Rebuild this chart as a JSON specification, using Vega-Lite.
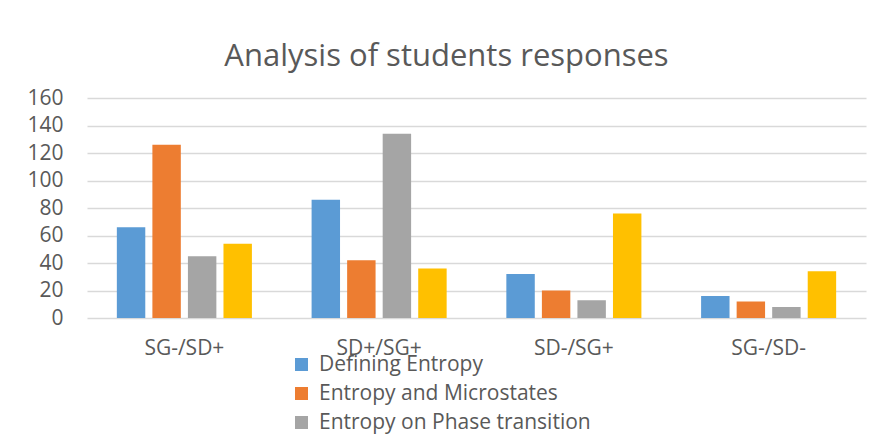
{
  "$schema": "https://vega.github.io/schema/vega-lite/v6.json",
  "width": 779,
  "height": 220,
  "autosize": {"type": "none"},
  "padding": {"left": 87, "top": 98, "right": 11, "bottom": 128},
  "background": "white",
  "title": {
    "text": "Analysis of students responses",
    "font": "Open Sans",
    "fontSize": 31,
    "fontWeight": "normal",
    "color": "#595959",
    "anchor": "middle",
    "dx": -30,
    "offset": 14
  },
  "data": {
    "values": [
      {"category": "SG-/SD+", "series": "Defining Entropy", "value": 66},
      {"category": "SG-/SD+", "series": "Entropy and Microstates", "value": 126},
      {"category": "SG-/SD+", "series": "Entropy on Phase transition", "value": 45},
      {"category": "SG-/SD+", "series": "Series 4", "value": 54},
      {"category": "SD+/SG+", "series": "Defining Entropy", "value": 86},
      {"category": "SD+/SG+", "series": "Entropy and Microstates", "value": 42},
      {"category": "SD+/SG+", "series": "Entropy on Phase transition", "value": 134},
      {"category": "SD+/SG+", "series": "Series 4", "value": 36},
      {"category": "SD-/SG+", "series": "Defining Entropy", "value": 32},
      {"category": "SD-/SG+", "series": "Entropy and Microstates", "value": 20},
      {"category": "SD-/SG+", "series": "Entropy on Phase transition", "value": 13},
      {"category": "SD-/SG+", "series": "Series 4", "value": 76},
      {"category": "SG-/SD-", "series": "Defining Entropy", "value": 16},
      {"category": "SG-/SD-", "series": "Entropy and Microstates", "value": 12},
      {"category": "SG-/SD-", "series": "Entropy on Phase transition", "value": 8},
      {"category": "SG-/SD-", "series": "Series 4", "value": 34}
    ]
  },
  "mark": {"type": "bar"},
  "encoding": {
    "x": {
      "field": "category",
      "type": "nominal",
      "sort": ["SG-/SD+", "SD+/SG+", "SD-/SG+", "SG-/SD-"],
      "scale": {"paddingInner": 0.27, "paddingOuter": 0.135},
      "axis": {
        "title": null,
        "labelAngle": 0,
        "labelFont": "Open Sans",
        "labelFontSize": 21,
        "labelColor": "#595959",
        "labelPadding": 19,
        "ticks": false,
        "domain": false,
        "grid": false
      }
    },
    "xOffset": {
      "field": "series",
      "type": "nominal",
      "sort": ["Defining Entropy", "Entropy and Microstates", "Entropy on Phase transition", "Series 4"],
      "scale": {"paddingInner": 0.2, "paddingOuter": 0.1}
    },
    "y": {
      "field": "value",
      "type": "quantitative",
      "scale": {"domain": [0, 160], "nice": false},
      "axis": {
        "title": null,
        "values": [0, 20, 40, 60, 80, 100, 120, 140, 160],
        "labelFont": "Open Sans",
        "labelFontSize": 21,
        "labelColor": "#595959",
        "labelPadding": 24,
        "ticks": false,
        "domain": false,
        "grid": true,
        "gridColor": "#D9D9D9",
        "gridWidth": 1.5
      }
    },
    "color": {
      "field": "series",
      "type": "nominal",
      "scale": {
        "domain": ["Defining Entropy", "Entropy and Microstates", "Entropy on Phase transition", "Series 4"],
        "range": ["#5B9BD5", "#ED7D31", "#A5A5A5", "#FFC000"]
      },
      "legend": {
        "title": null,
        "values": ["Defining Entropy", "Entropy and Microstates", "Entropy on Phase transition"],
        "orient": "none",
        "legendX": 204,
        "legendY": 256,
        "direction": "vertical",
        "symbolType": "square",
        "symbolSize": 169,
        "symbolStrokeWidth": 0,
        "labelFont": "Open Sans",
        "labelFontSize": 21,
        "labelColor": "#595959",
        "labelOffset": 7,
        "rowPadding": 7,
        "labelLimit": 400
      }
    }
  },
  "config": {
    "view": {"stroke": null}
  }
}
